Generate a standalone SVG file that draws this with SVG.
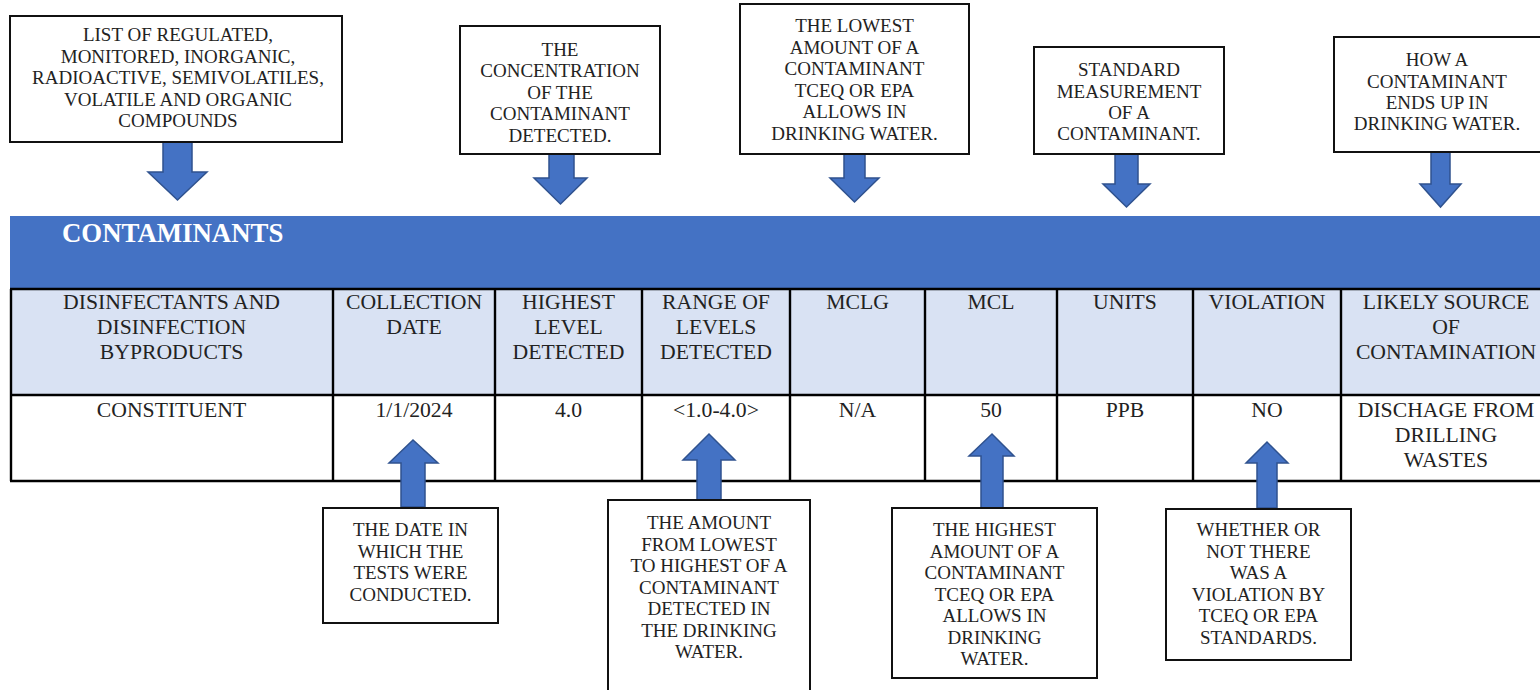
<svg xmlns="http://www.w3.org/2000/svg" width="1540" height="690" viewBox="0 0 1540 690">
<style>
.box{fill:#fff;stroke:#111;stroke-width:2}
.ct{font-family:"Liberation Serif","DejaVu Serif",serif;font-size:19px;fill:#222;text-anchor:middle}
.tt{font-family:"Liberation Serif","DejaVu Serif",serif;font-size:21.7px;fill:#222;text-anchor:middle}
.ttl{font-family:"Liberation Serif","DejaVu Serif",serif;font-size:26.8px;font-weight:bold;fill:#fff}
.arr{fill:#4472C4;stroke:#2F528F;stroke-width:1.5;stroke-linejoin:miter}
.grid{stroke:#000;stroke-width:2.4;fill:none}
</style>
<rect width="1540" height="690" fill="#fff"/>

<g id="table">
  <rect x="10" y="216" width="1545" height="73" fill="#4472C4"/>
  <text class="ttl" x="62" y="242">CONTAMINANTS</text>
  <rect x="10" y="289" width="1545" height="106" fill="#D9E2F3"/>
  <rect x="10" y="395" width="1545" height="86" fill="#fff"/>
  <path class="grid" d="M10 289H1555M10 395H1555M10 481H1555M11 289V481M333 289V481M495 289V481M642 289V481M790 289V481M925 289V481M1057 289V481M1193 289V481M1341 289V481"/>
  <g class="tt">
    <text x="171.5" y="309">DISINFECTANTS AND</text>
    <text x="171.5" y="334">DISINFECTION</text>
    <text x="171.5" y="359">BYPRODUCTS</text>
    <text x="414" y="309">COLLECTION</text>
    <text x="414" y="334">DATE</text>
    <text x="568.5" y="309">HIGHEST</text>
    <text x="568.5" y="334">LEVEL</text>
    <text x="568.5" y="359">DETECTED</text>
    <text x="716" y="309">RANGE OF</text>
    <text x="716" y="334">LEVELS</text>
    <text x="716" y="359">DETECTED</text>
    <text x="857.5" y="309">MCLG</text>
    <text x="991" y="309">MCL</text>
    <text x="1125" y="309">UNITS</text>
    <text x="1267" y="309">VIOLATION</text>
    <text x="1446" y="309">LIKELY SOURCE</text>
    <text x="1446" y="334">OF</text>
    <text x="1446" y="359">CONTAMINATION</text>
    <text x="171.5" y="417">CONSTITUENT</text>
    <text x="414" y="417">1/1/2024</text>
    <text x="568.5" y="417">4.0</text>
    <text x="716" y="417">&lt;1.0-4.0&gt;</text>
    <text x="857.5" y="417">N/A</text>
    <text x="991" y="417">50</text>
    <text x="1125" y="417">PPB</text>
    <text x="1267" y="417">NO</text>
    <text x="1446" y="417">DISCHAGE FROM</text>
    <text x="1446" y="442">DRILLING</text>
    <text x="1446" y="467">WASTES</text>
  </g>
</g>

<g id="connectors">
  <polygon class="arr" points="163,142 192,142 192,172 207,172 177.5,200 148,172 163,172"/>
  <polygon class="arr" points="549,154 574,154 574,178 587,178 560.5,204 534,178 549,178"/>
  <polygon class="arr" points="844,154 865,154 865,178 879,178 854.5,202 830,178 844,178"/>
  <polygon class="arr" points="1115,154 1138,154 1138,184 1150,184 1126.5,207 1103,184 1115,184"/>
  <polygon class="arr" points="1431,151 1450,151 1450,184 1461,184 1440.5,207 1420,184 1431,184"/>
  <polygon class="arr" points="401,507 425,507 425,463 438,463 413,440 389,463 401,463"/>
  <polygon class="arr" points="697,500 721,500 721,460 735,460 709,434 683,460 697,460"/>
  <polygon class="arr" points="981,508 1003,508 1003,456 1014,456 992,434 969,456 981,456"/>
  <polygon class="arr" points="1257,508 1277,508 1277,463 1288,463 1267,442 1246,463 1257,463"/>
</g>

<g id="callout-list">
  <rect class="box" x="10" y="16" width="332" height="126"/>
  <text class="ct"><tspan x="178" y="41">LIST OF REGULATED,</tspan><tspan x="178" y="62.5">MONITORED, INORGANIC,</tspan><tspan x="178" y="84">RADIOACTIVE, SEMIVOLATILES,</tspan><tspan x="178" y="105.5">VOLATILE AND ORGANIC</tspan><tspan x="178" y="127">COMPOUNDS</tspan></text>
</g>
<g id="callout-concentration">
  <rect class="box" x="460" y="26" width="200" height="128"/>
  <text class="ct"><tspan x="560" y="55.5">THE</tspan><tspan x="560" y="77">CONCENTRATION</tspan><tspan x="560" y="98.5">OF THE</tspan><tspan x="560" y="120">CONTAMINANT</tspan><tspan x="560" y="141.5">DETECTED.</tspan></text>
</g>
<g id="callout-lowest">
  <rect class="box" x="740" y="4" width="229" height="150"/>
  <text class="ct"><tspan x="854.5" y="32">THE LOWEST</tspan><tspan x="854.5" y="53.5">AMOUNT OF A</tspan><tspan x="854.5" y="75">CONTAMINANT</tspan><tspan x="854.5" y="96.5">TCEQ OR EPA</tspan><tspan x="854.5" y="118">ALLOWS IN</tspan><tspan x="854.5" y="139.5">DRINKING WATER.</tspan></text>
</g>
<g id="callout-units">
  <rect class="box" x="1034" y="47" width="190" height="107"/>
  <text class="ct"><tspan x="1129" y="76">STANDARD</tspan><tspan x="1129" y="97.5">MEASUREMENT</tspan><tspan x="1129" y="118.5">OF A</tspan><tspan x="1129" y="140">CONTAMINANT.</tspan></text>
</g>
<g id="callout-source">
  <rect class="box" x="1334" y="37" width="210" height="115"/>
  <text class="ct"><tspan x="1437" y="66">HOW A</tspan><tspan x="1437" y="87.5">CONTAMINANT</tspan><tspan x="1437" y="108.5">ENDS UP IN</tspan><tspan x="1437" y="130">DRINKING WATER.</tspan></text>
</g>
<g id="callout-date">
  <rect class="box" x="323" y="508" width="175" height="115"/>
  <text class="ct"><tspan x="410.5" y="536">THE DATE IN</tspan><tspan x="410.5" y="557.5">WHICH THE</tspan><tspan x="410.5" y="579">TESTS WERE</tspan><tspan x="410.5" y="600.5">CONDUCTED.</tspan></text>
</g>
<g id="callout-range">
  <rect class="box" x="608" y="500" width="202" height="200"/>
  <text class="ct"><tspan x="709" y="529">THE AMOUNT</tspan><tspan x="709" y="550.5">FROM LOWEST</tspan><tspan x="709" y="572">TO HIGHEST OF A</tspan><tspan x="709" y="593.5">CONTAMINANT</tspan><tspan x="709" y="615">DETECTED IN</tspan><tspan x="709" y="636.5">THE DRINKING</tspan><tspan x="709" y="658">WATER.</tspan></text>
</g>
<g id="callout-mcl">
  <rect class="box" x="892" y="508" width="205" height="170"/>
  <text class="ct"><tspan x="994.5" y="536">THE HIGHEST</tspan><tspan x="994.5" y="557.5">AMOUNT OF A</tspan><tspan x="994.5" y="579">CONTAMINANT</tspan><tspan x="994.5" y="600.5">TCEQ OR EPA</tspan><tspan x="994.5" y="622">ALLOWS IN</tspan><tspan x="994.5" y="643.5">DRINKING</tspan><tspan x="994.5" y="665">WATER.</tspan></text>
</g>
<g id="callout-violation">
  <rect class="box" x="1166" y="509" width="185" height="151"/>
  <text class="ct"><tspan x="1258.5" y="536">WHETHER OR</tspan><tspan x="1258.5" y="557.5">NOT THERE</tspan><tspan x="1258.5" y="579">WAS A</tspan><tspan x="1258.5" y="600.5">VIOLATION BY</tspan><tspan x="1258.5" y="622">TCEQ OR EPA</tspan><tspan x="1258.5" y="643.5">STANDARDS.</tspan></text>
</g>
</svg>
